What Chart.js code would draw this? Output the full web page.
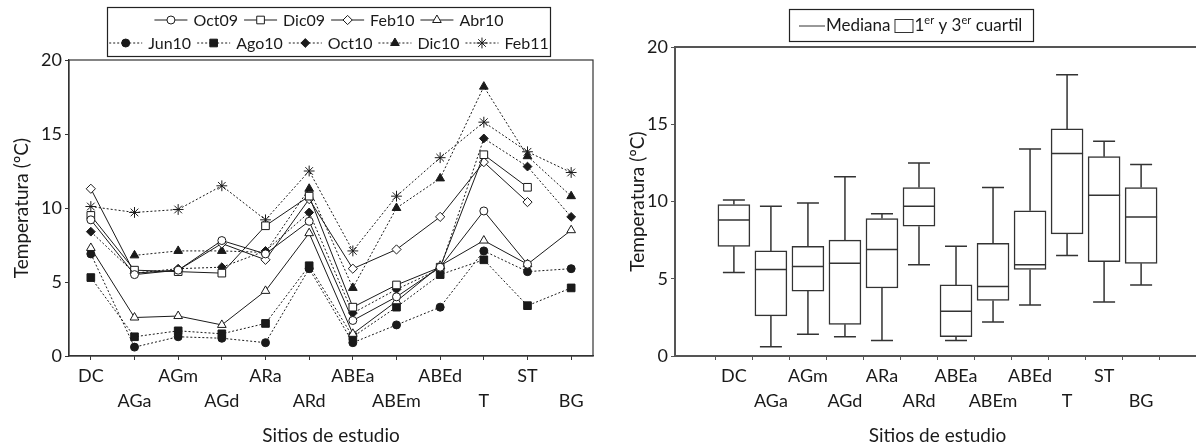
<!DOCTYPE html>
<html>
<head>
<meta charset="utf-8">
<script src="https://cdn.jsdelivr.net/npm/chart.js@4.4.1/dist/chart.umd.min.js"></script>
<style>
  html, body { margin: 0; padding: 0; background: #fff; overflow: hidden; width: 1196px; height: 445px; }
  canvas { position: absolute; top: 0; }
  #left { left: 0; }
  #right { left: 620px; }
</style>
</head>
<body>
<canvas id="left" width="620" height="445" style="width:620px;height:445px"></canvas>
<canvas id="right" width="580" height="445" style="width:580px;height:445px"></canvas>
<script>
// sites along the x axis (both panels)
const sites = ['DC', 'AGa', 'AGm', 'AGd', 'ARa', 'ARd', 'ABEa', 'ABEm', 'ABEd', 'T', 'ST', 'BG'];
const yTicks = [0, 5, 10, 15, 20];

// left panel: temperature per sampling campaign (ºC)
const oct09 = [9.2, 5.5, 5.8, 7.8, 6.9, 9.1, 2.4, 4.0, 6.0, 9.8, 6.2, null];
const dic09 = [9.5, 5.8, 5.7, 5.6, 8.8, 10.8, 3.3, 4.8, 6.0, 13.6, 11.4, null];
const feb10 = [11.3, 5.6, 5.8, 7.6, 6.5, 10.6, 5.9, 7.2, 9.4, 13.1, 10.4, null];
const abr10 = [7.3, 2.6, 2.7, 2.1, 4.4, 8.3, 1.5, 3.7, 6.1, 7.8, 6.2, 8.5];
const jun10 = [6.9, 0.6, 1.3, 1.2, 0.9, 5.9, 0.9, 2.1, 3.3, 7.1, 5.7, 5.9];
const ago10 = [5.3, 1.3, 1.7, 1.5, 2.2, 6.1, 1.3, 3.3, 5.5, 6.5, 3.4, 4.6];
const oct10 = [8.4, 5.6, 5.9, 6.0, 7.1, 9.7, 2.9, 4.5, 5.9, 14.7, 12.8, 9.4];
const dic10 = [null, 6.8, 7.1, 7.1, 7.0, 11.3, 4.6, 10.0, 12.0, 18.2, 13.5, 10.8];
const feb11 = [10.1, 9.7, 9.9, 11.5, 9.2, 12.5, 7.1, 10.8, 13.4, 15.8, 13.8, 12.4];

// right panel: box plot summary per site
const boxMin = [5.4, 0.6, 1.4, 1.25, 1.0, 5.9, 1.0, 2.2, 3.3, 6.5, 3.5, 4.6];
const boxQ1  = [7.1, 2.6, 4.2, 2.05, 4.4, 8.4, 1.25, 3.6, 5.6, 7.9, 6.1, 6.0];
const boxMed = [8.8, 5.6, 5.8, 6.0, 6.9, 9.7, 2.9, 4.5, 5.9, 13.1, 10.4, 9.0];
const boxQ3  = [9.8, 6.8, 7.1, 7.5, 8.9, 10.9, 4.6, 7.3, 9.4, 14.7, 12.9, 10.9];
const boxMax = [10.1, 9.7, 9.9, 11.6, 9.2, 12.5, 7.1, 10.9, 13.4, 18.2, 13.9, 12.4];

const FONT = 'Lato, "Open Sans", sans-serif';
const INK = '#1a1a1a';
Chart.defaults.font.family = FONT;
Chart.defaults.color = INK;

function staggered(i) {
  return i % 2 ? ['', sites[i]] : [sites[i], ''];
}

// marker drawing for the legend, same geometry as chart.js point styles
function drawMarker(ctx, style, r, x, y, fill) {
  ctx.beginPath();
  if (style === 'circle') {
    ctx.arc(x, y, r, 0, Math.PI * 2);
  } else if (style === 'rect') {
    const s = Math.SQRT1_2 * r;
    ctx.rect(x - s, y - s, 2 * s, 2 * s);
  } else if (style === 'rectRot') {
    ctx.moveTo(x - r, y); ctx.lineTo(x, y - r); ctx.lineTo(x + r, y); ctx.lineTo(x, y + r); ctx.closePath();
  } else if (style === 'triangle') {
    for (let k = 0; k < 3; k++) {
      const a = k * 2 * Math.PI / 3;
      const px = x + Math.sin(a) * r, py = y - Math.cos(a) * r;
      k ? ctx.lineTo(px, py) : ctx.moveTo(px, py);
    }
    ctx.closePath();
  } else if (style === 'star') {
    for (let k = 0; k < 4; k++) {
      const a = k * Math.PI / 4;
      ctx.moveTo(x - Math.sin(a) * r, y - Math.cos(a) * r);
      ctx.lineTo(x + Math.sin(a) * r, y + Math.cos(a) * r);
    }
  }
  if (style !== 'star') {
    ctx.fillStyle = fill;
    ctx.fill();
  }
  ctx.stroke();
}

const series = [
  { label: 'Oct09', data: oct09, style: 'circle', r: 4, open: true },
  { label: 'Dic09', data: dic09, style: 'rect', r: 5.4, open: true },
  { label: 'Feb10', data: feb10, style: 'rectRot', r: 4.6, open: true },
  { label: 'Abr10', data: abr10, style: 'triangle', r: 5, open: true },
  { label: 'Jun10', data: jun10, style: 'circle', r: 4, open: false },
  { label: 'Ago10', data: ago10, style: 'rect', r: 5.4, open: false },
  { label: 'Oct10', data: oct10, style: 'rectRot', r: 4.4, open: false },
  { label: 'Dic10', data: dic10, style: 'triangle', r: 5, open: false },
  { label: 'Feb11', data: feb11, style: 'star', r: 5.4, open: false }
];

const frame = {
  id: 'frame',
  afterDraw(chart) {
    const a = chart.chartArea, ctx = chart.ctx;
    ctx.save();
    ctx.strokeStyle = '#333';
    ctx.lineWidth = 1.2;
    ctx.strokeRect(a.left, a.top, a.right - a.left, a.bottom - a.top);
    ctx.restore();
  }
};

const leftLegend = {
  id: 'leftLegend',
  afterDraw(chart) {
    const ctx = chart.ctx;
    ctx.save();
    ctx.strokeStyle = '#222';
    ctx.lineWidth = 1.2;
    ctx.strokeRect(107.5, 7.5, 443, 49);
    ctx.font = '16px ' + FONT;
    ctx.textBaseline = 'middle';
    const rows = [[0, 1, 2, 3], [4, 5, 6, 7, 8]];
    const rowY = [20, 43];
    rows.forEach((row, r) => {
      const symW = 33, gap = 6, itemGap = 6;
      const widths = row.map(i => symW + gap + ctx.measureText(series[i].label).width);
      const total = widths.reduce((a, b) => a + b, 0) + itemGap * (row.length - 1);
      let x = 329 - total / 2;
      const y = rowY[r];
      row.forEach((i, k) => {
        const s = series[i];
        ctx.strokeStyle = INK;
        ctx.lineWidth = 1;
        ctx.setLineDash(s.open ? [] : [2, 2]);
        ctx.beginPath();
        ctx.moveTo(x, y);
        ctx.lineTo(x + symW, y);
        ctx.stroke();
        ctx.setLineDash([]);
        drawMarker(ctx, s.style, s.r, x + symW / 2, y, s.open ? '#fff' : INK);
        ctx.fillStyle = INK;
        ctx.fillText(s.label, x + symW + gap, y + 1);
        x += widths[k] + itemGap;
      });
    });
    ctx.restore();
  }
};

const tickFont = { size: 18, lineHeight: 1.39 };
const titleFont = { size: 19, lineHeight: 1 };

new Chart(document.getElementById('left'), {
  type: 'line',
  data: {
    labels: sites,
    datasets: series.map(s => ({
      label: s.label,
      data: s.data,
      borderColor: INK,
      borderWidth: 1,
      borderDash: s.open ? [] : [2, 2],
      pointStyle: s.style,
      pointRadius: s.r,
      pointHoverRadius: s.r,
      pointBackgroundColor: s.open ? '#fff' : INK,
      pointBorderColor: INK,
      pointBorderWidth: 1,
      tension: 0,
      fill: false,
      spanGaps: false
    }))
  },
  options: {
    responsive: false,
    animation: false,
    layout: { padding: { left: 0, right: 27, top: 60, bottom: 0 } },
    plugins: { legend: { display: false }, tooltip: { enabled: false } },
    scales: {
      x: {
        type: 'category',
        offset: true,
        grid: { drawOnChartArea: false, drawTicks: true, tickLength: 4, color: '#333' },
        border: { display: true, color: '#333', width: 1.2 },
        ticks: {
          autoSkip: false, maxRotation: 0, padding: 4,
          font: tickFont,
          callback: (v, i) => staggered(i)
        },
        title: { display: true, text: 'Sitios de estudio', font: titleFont, padding: { top: 0, bottom: 0 } },
        afterFit: s => { s.height = 89; }
      },
      y: {
        min: 0, max: 20,
        afterBuildTicks: s => { s.ticks = yTicks.map(v => ({ value: v })); },
        grid: { drawOnChartArea: false, drawTicks: true, tickLength: 4, color: '#333' },
        border: { display: true, color: '#333', width: 1.2 },
        ticks: { font: { size: 18 }, padding: 3 },
        title: { display: true, text: 'Temperatura (ºC)', font: { size: 19 }, padding: { top: 10, bottom: 0 } },
        afterFit: s => { s.width = 69; }
      }
    }
  },
  plugins: [frame, leftLegend]
});

// right panel: whiskers, caps and medians drawn on the library scales
const whiskers = {
  id: 'whiskers',
  afterDatasetsDraw(chart) {
    const ctx = chart.ctx, xs = chart.scales.x, ys = chart.scales.y;
    ctx.save();
    ctx.strokeStyle = '#333';
    ctx.lineWidth = 1.5;
    sites.forEach((s, i) => {
      const x = xs.getPixelForValue(i + 1);
      const yMin = ys.getPixelForValue(boxMin[i]);
      const yQ1 = ys.getPixelForValue(boxQ1[i]);
      const yMed = ys.getPixelForValue(boxMed[i]);
      const yQ3 = ys.getPixelForValue(boxQ3[i]);
      const yMax = ys.getPixelForValue(boxMax[i]);
      ctx.beginPath();
      ctx.moveTo(x, yQ3); ctx.lineTo(x, yMax);
      ctx.moveTo(x, yQ1); ctx.lineTo(x, yMin);
      ctx.moveTo(x - 11, yMax); ctx.lineTo(x + 11, yMax);
      ctx.moveTo(x - 11, yMin); ctx.lineTo(x + 11, yMin);
      ctx.moveTo(x - 16, yMed); ctx.lineTo(x + 16, yMed);
      ctx.stroke();
    });
    // top edge of the frame
    const a = chart.chartArea;
    ctx.strokeStyle = '#555';
    ctx.lineWidth = 2;
    ctx.beginPath();
    ctx.moveTo(a.left, a.top); ctx.lineTo(a.right, a.top);
    ctx.stroke();
    ctx.restore();
  }
};

const rightLegend = {
  id: 'rightLegend',
  afterDraw(chart) {
    const ctx = chart.ctx;
    ctx.save();
    ctx.strokeStyle = '#222';
    ctx.lineWidth = 1.2;
    ctx.strokeRect(169.5, 9.5, 244, 32);
    ctx.textBaseline = 'middle';
    ctx.fillStyle = INK;
    const y = 26;
    ctx.strokeStyle = '#333';
    ctx.lineWidth = 1;
    ctx.beginPath(); ctx.moveTo(179, y); ctx.lineTo(205, y); ctx.stroke();
    ctx.font = '17px ' + FONT;
    let x = 206;
    ctx.fillText('Mediana', x, y);
    x += ctx.measureText('Mediana').width + 4;
    ctx.strokeRect(x + 0.5, 19.5, 18, 13);
    x += 20;
    const parts = [['1', false], ['er', true], [' y 3', false], ['er', true], [' cuartil', false]];
    parts.forEach(([t, sup]) => {
      ctx.font = (sup ? '11px ' : '17px ') + FONT;
      ctx.fillText(t, x, sup ? y - 6 : y);
      x += ctx.measureText(t).width;
    });
    ctx.restore();
  }
};

new Chart(document.getElementById('right'), {
  type: 'bar',
  data: {
    datasets: [{
      label: '1er y 3er cuartil',
      data: sites.map((s, i) => ({ x: i + 1, y: [boxQ1[i], boxQ3[i]] })),
      backgroundColor: '#fff',
      borderColor: '#333',
      borderWidth: 1.5,
      borderSkipped: false,
      barThickness: 32
    }]
  },
  options: {
    responsive: false,
    animation: false,
    layout: { padding: { left: 0, right: 0, top: 47, bottom: 0 } },
    plugins: { legend: { display: false }, tooltip: { enabled: false } },
    scales: {
      x: {
        type: 'linear',
        min: 0, max: 13,
        afterBuildTicks: s => { s.ticks = sites.map((n, i) => ({ value: i + 1 })); },
        grid: { drawOnChartArea: false, drawTicks: true, tickLength: 4, color: '#555' },
        border: { display: true, color: '#555', width: 2 },
        ticks: {
          autoSkip: false, maxRotation: 0, padding: 4,
          font: tickFont,
          callback: v => staggered(v - 1)
        },
        title: { display: true, text: 'Sitios de estudio', font: titleFont, padding: { top: 0, bottom: 0 } },
        afterFit: s => { s.height = 89; }
      },
      y: {
        min: 0, max: 20,
        afterBuildTicks: s => { s.ticks = yTicks.map(v => ({ value: v })); },
        grid: { drawOnChartArea: false, drawTicks: true, tickLength: 4, color: '#555' },
        border: { display: true, color: '#555', width: 2 },
        ticks: { font: { size: 18 }, padding: 3 },
        title: { display: true, text: 'Temperatura (ºC)', font: { size: 19 }, padding: { top: 6, bottom: 0 } },
        afterFit: s => { s.width = 55; }
      }
    }
  },
  plugins: [whiskers, rightLegend]
});
</script>
</body>
</html>
